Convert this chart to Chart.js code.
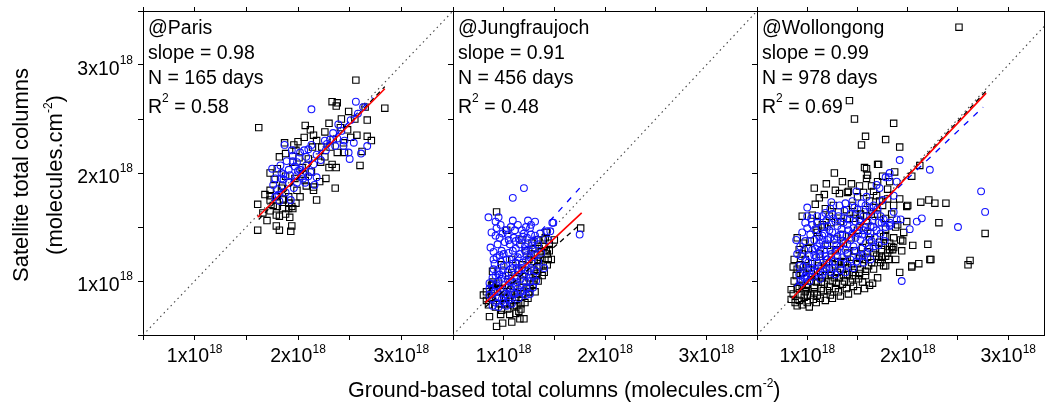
<!DOCTYPE html>
<html>
<head>
<meta charset="utf-8">
<script src="https://cdn.jsdelivr.net/npm/chart.js@4.4.1/dist/chart.umd.min.js"></script>
<style>
html, body { margin: 0; padding: 0; background: #fff; }
body { width: 1050px; height: 405px; position: relative; overflow: hidden;
  font-family: "Liberation Sans", Arial, sans-serif; color: #000; }
.layer { position: absolute; left: 0; top: 0; width: 1050px; height: 405px; pointer-events: none; }
#xtitle { position: absolute; left: 348px; top: 379px; font-size: 21.5px; line-height: 22px; white-space: nowrap; }
#ytitle { position: absolute; left: -112px; top: 141px; width: 300px; height: 68px; font-size: 22px;
  line-height: 34px; text-align: center; white-space: nowrap; transform: rotate(-90deg); }
sup { font-size: 12px; line-height: 0; vertical-align: baseline; position: relative; top: -10px; }
</style>
</head>
<body>
<div class="layer"><canvas id="c1"></canvas></div>
<div class="layer"><canvas id="c2"></canvas></div>
<div class="layer"><canvas id="c3"></canvas></div>
<div id="ytitle">Satellite total columns<br>(molecules.cm<sup>-2</sup>)</div>
<div id="xtitle">Ground-based total columns (molecules.cm<sup>-2</sup>)</div>
<script>
// values in units of 1e18 molecules/cm2, [ground, satellite]
var tickValues = [1, 2, 3];
var tickBase = ["1x10", "2x10", "3x10"];
var tickExp = "18";
var oneToOne = [[0.5, 0.5], [3.5, 3.5]];

var parisSquares = [
  [2.56,2.86],[1.62,2.42],[2.33,2.66],[2.38,2.65],[2.37,2.62],[2.84,2.60],[2.65,2.61],[2.49,2.57],[2.67,2.49],[2.30,2.46],
  [2.07,2.44],[2.12,2.40],[2.06,2.33],[2.15,2.35],[1.96,2.26],[1.87,2.28],[1.88,2.18],[1.82,2.15],[2.18,2.30],[2.23,2.24],
  [2.67,2.34],[2.51,2.33],[2.44,2.28],[2.34,2.31],[2.45,2.19],[2.60,2.07],[2.30,2.05],[2.37,2.05],[2.33,2.08],[2.36,1.86],
  [2.18,1.75],[2.21,1.92],[2.15,1.87],[2.13,2.01],[2.05,1.99],[1.73,2.00],[1.80,2.04],[1.79,1.78],[1.73,1.84],[1.73,1.75],
  [1.86,1.75],[1.99,1.84],[1.91,1.78],[1.94,1.69],[1.91,1.67],[1.95,1.67],[1.61,1.71],[1.73,1.65],[1.79,1.61],[1.70,1.56],
  [1.82,1.60],[1.92,1.59],[1.61,1.47],[1.79,1.51],[1.82,1.47],[1.94,1.51],[1.93,1.46],[1.85,1.88],[2.08,1.88],[2.15,1.84],
  [2.14,2.24],[2.01,2.14],[1.95,2.10],[2.07,1.93],[1.84,1.86],[1.91,1.72],[1.85,1.67],[2.31,2.24],[2.38,2.19],[1.73,1.79],
  [1.86,1.76],[1.66,1.63],[1.76,1.70],[1.88,1.62],[1.98,1.72],[2.02,1.78],[1.98,2.21],[2.04,2.05],[2.10,2.13],[2.22,2.10],
  [2.26,2.38],[2.41,2.42],[2.48,2.40],[2.57,2.35],[2.62,2.20],[2.71,2.30],[2.27,1.95],[2.26,2.15],[1.77,1.94],[1.68,1.80],
  [1.97,1.95],[2.42,2.50],[2.55,2.50],[1.88,1.97],[1.80,1.69],[2.00,2.29]
];
var parisCircles = [
  [2.13,2.59],[2.56,2.66],[2.63,2.61],[2.51,2.49],[2.42,2.39],[2.34,2.37],[2.38,2.32],[2.31,2.31],[2.45,2.30],[1.87,2.26],
  [2.13,2.26],[2.06,2.21],[2.08,2.15],[1.95,2.16],[2.18,2.17],[2.27,2.21],[2.36,2.25],[2.44,2.25],[2.54,2.28],[2.67,2.25],
  [2.61,2.18],[2.49,2.19],[2.50,2.13],[1.75,2.04],[1.83,2.07],[1.89,2.11],[1.99,2.10],[1.97,2.06],[1.91,2.03],[1.92,1.98],
  [2.02,2.03],[1.78,1.95],[1.84,1.95],[1.99,1.98],[2.05,1.95],[2.08,2.07],[2.15,2.08],[2.18,1.96],[1.76,1.89],[1.91,1.91],
  [1.99,1.91],[2.07,1.91],[2.16,1.89],[1.78,1.78],[1.82,1.74],[1.93,1.75],[1.86,1.99],[1.95,2.11],[2.00,2.02],[1.86,1.94],
  [2.12,2.01],[1.80,1.85],[1.88,1.82],[1.96,1.86],[2.03,1.97],[2.10,1.97],[2.22,2.12],[2.28,2.27],[2.39,2.45],[2.58,2.55],
  [2.02,2.19],[1.94,2.21],[1.84,2.00],[2.10,2.22],[1.81,1.80],[2.26,2.30]
];
var parisRed = [[1.61,1.59],[2.84,2.78]];
var parisBlackFit = [[1.62,1.57],[2.84,2.80]];
var parisBlueFit = [[1.75,1.74],[2.72,2.70]];

var jfjSquares = [
  [0.93,0.58],[0.99,0.61],[1.08,0.62],[1.16,0.65],[1.20,0.65],[0.86,0.67],[1.12,0.70],[1.17,0.74],[0.98,0.73],[1.04,0.74],
  [0.86,0.85],[0.80,0.87],[1.44,1.20],[1.43,1.25],[1.42,1.28],[1.39,1.38],[1.34,1.38],[1.42,1.45],[1.76,1.49],[1.03,1.47],
  [0.93,1.64],[0.89,1.09],[0.89,0.99],[1.35,1.14],[1.32,1.05],[1.26,0.93],[1.19,0.88],[1.11,0.82],[1.06,0.79],[1.17,0.79],
  [0.96,0.79],[0.83,0.82],[1.00,0.90],[1.10,0.95],[1.20,1.00],[1.30,1.10],[1.25,1.20],[1.15,1.10],[1.05,1.05],[0.95,0.98],
  [1.35,1.30],[1.28,1.35],[1.22,1.28],[1.12,0.85],[0.90,0.92],[1.02,0.84],[1.25,0.90],[1.30,1.00],[1.38,1.05],[1.36,1.22],
  [1.18,1.38],[1.08,1.20],[0.98,1.15],[0.88,0.96],[1.15,0.72],[1.40,1.32],[1.47,1.20],[1.45,1.35],[0.83,0.90],[0.88,0.88],
  [0.94,0.84],[1.00,0.85],[1.07,0.87],[1.14,0.88],[1.23,0.94],[1.29,0.97],[1.34,1.00],[1.40,1.08],[1.43,1.15],[0.92,0.76],
  [1.01,0.78],[1.10,0.77],[1.21,0.80],[1.24,0.84],[1.31,0.90],[0.85,0.78],[0.97,0.69],[1.06,0.69],[1.13,0.77],[1.18,0.94],
  [1.25,1.03],[1.33,1.07],[1.39,1.15],[1.34,1.19],[1.27,1.25],[1.21,1.10],[1.13,1.02],[1.05,0.96],[0.97,0.93],[0.90,0.97],
  [1.08,1.08],[1.18,1.15],[1.30,1.18],[1.37,1.27],[1.31,1.30],[1.41,1.40],[1.50,1.38],[1.45,1.28]
];
var jfjCircles = [
  [1.20,1.86],[1.09,1.77],[0.85,1.59],[0.95,1.59],[0.92,1.55],[1.09,1.56],[1.24,1.56],[1.31,1.55],[1.49,1.54],[0.93,1.49],
  [1.02,1.47],[1.11,1.47],[1.26,1.49],[1.04,1.43],[1.19,1.41],[1.27,1.43],[1.31,1.42],[1.46,1.46],[0.96,1.40],[0.87,1.31],
  [0.94,1.34],[1.06,1.34],[1.16,1.34],[1.24,1.35],[1.34,1.34],[0.98,1.28],[1.09,1.28],[1.21,1.28],[1.29,1.29],[0.93,1.22],
  [1.03,1.20],[1.14,1.22],[1.26,1.22],[1.34,1.18],[0.91,1.16],[1.00,1.14],[1.09,1.16],[1.19,1.17],[0.94,1.09],[1.04,1.08],
  [1.14,1.09],[1.24,1.09],[1.32,1.09],[0.89,1.03],[0.98,1.02],[1.08,1.00],[1.17,1.02],[1.26,1.00],[1.32,1.00],[0.93,0.96],
  [1.03,0.94],[1.12,0.96],[1.22,0.94],[1.29,0.94],[0.94,0.90],[1.01,0.88],[1.09,0.89],[1.17,0.90],[1.26,0.88],[0.89,0.84],
  [0.98,0.83],[1.06,0.83],[0.89,0.77],[0.95,0.76],[1.03,0.77],[1.75,1.43],[1.44,1.38],[1.48,1.54],[1.43,1.46],[0.90,1.20],
  [1.00,1.25],[1.12,1.30],[1.05,1.38],[1.18,1.47],[0.97,1.52],[1.37,1.26],[1.40,1.12],[1.13,1.12],[0.96,1.06],[1.06,0.99],
  [1.20,1.05],[1.15,0.84],[0.86,0.93],[1.10,1.40],[1.22,1.50],[0.88,1.45],[0.92,1.42],[0.99,1.44],[1.07,1.50],[1.14,1.52],
  [1.20,1.44],[1.23,1.40],[1.15,1.39],[1.01,1.36],[1.12,1.37],[1.21,1.32],[1.28,1.33],[0.90,1.27],[0.96,1.24],[1.05,1.26],
  [1.16,1.25],[1.23,1.24],[1.31,1.25],[0.97,1.18],[1.06,1.20],[1.12,1.17],[1.22,1.19],[1.28,1.16],[0.90,1.11],[0.99,1.10],
  [1.09,1.12],[1.18,1.12],[1.27,1.12],[0.92,1.05],[1.02,1.05],[1.12,1.04],[1.21,1.07],[1.29,1.04],[0.86,0.98],[0.95,1.00],
  [1.04,1.01],[1.13,0.99],[1.22,0.99],[0.91,0.90],[0.99,0.92],[1.07,0.93],[1.14,0.93],[1.20,0.91],[0.86,0.87],[0.94,0.85],
  [1.04,0.86],[1.11,0.88],[1.22,0.87],[1.00,0.80],[1.08,0.79],[0.92,0.80],[1.30,1.37],[1.36,1.44],[1.27,1.52]
];
var jfjRed = [[0.82,0.80],[1.77,1.63]];
var jfjBlackFit = [[0.82,0.76],[1.75,1.52]];
var jfjBlueFit = [[0.85,0.93],[1.75,1.86]];

var wlgSquares = [
  [2.51,3.35],[1.42,2.67],[1.47,2.50],[1.86,2.46],[1.58,2.34],[1.54,2.26],[1.78,2.31],[1.92,2.24],[1.27,2.00],[1.59,2.04],
  [1.70,2.08],[1.87,2.01],[2.12,2.07],[1.17,1.80],[1.08,1.71],[1.32,1.81],[1.40,1.82],[2.13,1.73],[2.21,1.75],[2.38,1.72],
  [2.00,1.70],[2.31,1.54],[2.77,1.44],[1.93,1.38],[2.05,1.33],[1.94,1.28],[2.20,1.34],[1.84,1.32],[1.78,1.14],[2.04,1.14],
  [2.11,1.16],[2.23,1.20],[2.60,1.15],[2.62,1.19],[1.62,0.96],[0.90,0.77],[0.84,0.83],[1.07,1.86],[1.18,1.67],[1.41,1.83],
  [1.57,2.05],[1.71,2.08],[1.59,1.95],[1.64,1.88],[1.69,1.79],[1.56,1.82],[0.94,0.87],[1.03,0.87],[1.10,0.87],[1.20,0.91],
  [1.28,0.93],[1.35,0.97],[1.43,0.99],[1.51,1.02],[1.58,1.05],[1.66,1.11],[1.73,1.17],[1.78,1.23],[1.82,1.29],[1.74,1.29],
  [0.99,0.94],[0.90,0.93],[1.07,0.94],[1.17,0.97],[1.25,1.00],[1.36,1.05],[1.45,1.08],[1.53,1.11],[1.61,1.14],[1.69,1.23],
  [1.76,1.14],[1.81,1.20],[0.87,1.00],[0.95,0.96],[1.04,1.00],[1.18,1.05],[1.30,1.08],[1.41,1.12],[1.50,1.16],[1.10,1.55],
  [1.09,1.47],[0.92,1.29],[0.87,1.20],[0.90,1.11],[1.28,1.29],[1.36,1.35],[1.59,1.60],[1.76,1.41],[1.82,1.35],[1.63,1.44],
  [1.53,1.55],[2.04,1.97],[2.27,1.72],[1.92,1.76],[1.99,1.69],[1.78,1.41],[1.95,1.37],[1.86,1.31],[1.85,1.29],[2.22,1.20],
  [2.04,1.13],[1.74,1.22],[1.78,1.58],[1.90,1.52],[0.86,0.88],[0.92,0.82],[0.97,0.85],[1.00,0.80],[1.06,0.83],[1.13,0.84],
  [1.16,0.91],[1.23,0.87],[1.31,0.90],[1.39,0.93],[1.46,0.95],[0.89,1.05],[0.96,1.08],[1.01,1.12],[1.08,1.04],[1.13,1.09],
  [1.22,1.12],[1.27,1.03],[1.33,1.12],[1.38,1.18],[1.46,1.22],[1.55,1.20],[1.60,1.27],[1.68,1.30],[1.72,1.36],[1.55,1.31],
  [1.47,1.28],[1.40,1.26],[1.31,1.18],[1.24,1.22],[1.16,1.17],[1.05,1.16],[0.98,1.20],[0.93,1.15],[1.01,1.30],[1.12,1.25],
  [1.20,1.33],[1.27,1.39],[1.35,1.43],[1.44,1.40],[1.50,1.47],[1.58,1.50],[1.65,1.56],[1.70,1.62],[1.48,1.62],[1.40,1.58],
  [1.33,1.55],[1.22,1.60],[1.15,1.52],[1.05,1.61],[1.26,1.70],[1.45,1.70],[1.62,1.74],[1.75,1.70],[1.84,1.62],[1.88,1.50],
  [1.96,1.45],[1.99,1.55],[1.70,1.92],[1.80,1.85],[1.52,1.88],[1.35,1.92],[1.19,1.90],[0.98,0.90],[1.14,0.99],[1.22,0.95],
  [1.70,1.03],[1.88,1.20],[1.92,1.08],[1.55,0.99],[0.84,0.92],[0.95,1.25],[1.62,1.38],[1.78,1.48],[0.88,0.80],[0.95,0.78],
  [1.02,0.76],[1.09,0.80],[1.18,0.82],[1.25,0.84],[1.33,0.86],[1.41,0.88],[1.50,0.91],[1.57,0.93],[1.65,0.98],[0.92,0.95],
  [1.00,0.97],[1.09,0.99],[1.15,1.03],[1.23,1.05],[1.32,1.03],[1.40,1.06],[1.48,1.05],[1.58,1.09],[1.64,1.17],[1.71,1.20],
  [1.80,1.26],[0.86,1.13],[0.93,1.07],[1.04,1.07],[1.11,1.14],[1.19,1.17],[1.28,1.15],[1.36,1.17],[1.44,1.16],[1.52,1.21],
  [1.60,1.22],[1.66,1.26],[1.74,1.33],[1.86,1.40],[0.90,1.40],[0.96,1.35],[1.03,1.37],[1.10,1.45],[1.17,1.50],[1.24,1.54],
  [1.31,1.64],[1.39,1.66],[1.46,1.58],[1.53,1.62],[1.58,1.66],[1.66,1.68],[1.72,1.74],[1.80,1.76],[1.86,1.70],[1.66,1.83],
  [1.50,1.78],[1.44,1.90],[1.28,1.84],[1.12,1.77],[1.60,1.98],[1.75,1.97],[1.82,1.92],[0.95,1.60],[1.00,0.87],[1.07,0.90],
  [1.14,0.93],[1.29,0.98],[1.37,1.00],[1.45,1.02],[1.52,1.07]
];
var wlgCircles = [
  [1.92,2.12],[2.22,2.03],[2.73,1.83],[2.77,1.64],[2.50,1.50],[1.94,1.00],[2.02,1.48],[2.14,1.58],[2.09,1.55],[1.00,1.68],
  [1.00,1.49],[0.89,1.38],[1.24,1.73],[1.23,1.67],[1.69,1.89],[1.72,1.86],[1.78,1.96],[1.81,1.96],[1.82,1.51],[1.89,1.57],
  [1.32,1.70],[1.38,1.72],[1.45,1.74],[1.49,1.83],[1.59,1.78],[1.82,2.00],[1.26,1.58],[1.17,1.44],[1.12,1.41],[1.07,1.38],
  [1.05,1.29],[0.97,1.29],[0.94,1.23],[0.99,1.19],[0.92,1.14],[0.92,1.06],[0.97,1.03],[1.04,1.12],[1.10,1.17],[1.20,1.20],
  [1.30,1.23],[1.38,1.29],[1.46,1.32],[1.53,1.38],[1.61,1.41],[1.69,1.47],[1.76,1.57],[1.82,1.54],[1.73,1.60],[1.63,1.64],
  [1.56,1.60],[1.48,1.55],[1.41,1.47],[1.33,1.43],[1.27,1.38],[1.18,1.34],[1.13,1.28],[1.23,1.29],[1.33,1.32],[1.43,1.38],
  [1.51,1.44],[1.63,1.51],[1.71,1.54],[1.09,1.08],[1.17,1.09],[1.25,1.12],[1.33,1.16],[1.43,1.20],[1.51,1.23],[1.59,1.26],
  [1.66,1.32],[1.20,1.51],[1.30,1.51],[1.40,1.52],[1.50,1.66],[1.58,1.70],[1.66,1.70],[1.46,1.49],[1.56,1.47],[1.13,1.02],
  [1.02,1.00],[0.95,0.99],[1.10,1.32],[1.15,1.38],[1.23,1.40],[1.02,1.23],[1.13,1.23],[1.22,1.16],[1.28,1.06],[1.38,1.08],
  [1.46,1.12],[1.56,1.17],[1.63,1.20],[1.64,1.37],[1.36,1.58],[1.28,1.55],[1.10,1.54],[1.86,1.64],[1.89,1.92],[1.86,1.79],
  [1.93,1.57],[1.83,1.52],[1.74,1.54],[1.00,1.60],[0.95,1.45],[1.05,1.52],[1.15,1.60],[0.90,1.25],[0.93,1.32],[0.98,1.37],
  [1.03,1.43],[1.08,1.48],[1.14,1.50],[1.19,1.56],[1.25,1.62],[1.31,1.60],[1.37,1.65],[1.43,1.62],[1.52,1.57],[1.60,1.55],
  [1.67,1.60],[1.70,1.67],[1.75,1.75],[1.62,1.68],[1.54,1.72],[1.47,1.68],[1.39,1.42],[1.45,1.44],[1.35,1.37],[1.29,1.33],
  [1.24,1.25],[1.18,1.23],[1.07,1.24],[1.01,1.17],[0.96,1.13],[1.06,1.09],[1.14,1.14],[1.19,1.12],[1.27,1.18],[1.35,1.22],
  [1.40,1.25],[1.48,1.28],[1.54,1.30],[1.58,1.35],[1.67,1.40],[1.73,1.44],[1.78,1.50],[1.55,1.43],[1.48,1.40],[1.40,1.34],
  [1.30,1.28],[1.17,1.29],[1.09,1.22],[1.00,1.10],[0.93,1.00],[0.99,1.05],[1.05,1.04],[1.15,1.06],[1.24,1.08],[1.33,1.10],
  [1.40,1.15],[1.49,1.18],[1.55,1.24],[1.62,1.30],[1.71,1.33],[1.77,1.37],[1.12,1.35],[1.20,1.38],[1.25,1.45],[1.34,1.48],
  [1.30,1.41],[1.22,1.47],[1.15,1.42],[1.08,1.30],[1.52,1.51],[1.60,1.46],[1.66,1.50],[1.36,1.54],[1.42,1.57],[1.18,1.63],
  [1.10,1.60],[1.04,1.58],[0.98,1.54]
];
var wlgRed = [[0.85,0.84],[2.78,2.74]];
var wlgBlackFit = [[0.85,0.83],[2.78,2.76]];
var wlgBlueFit = [[0.87,0.95],[2.75,2.61]];

var BIG = '19.5px "Liberation Sans", Arial, sans-serif';
var SMALL = '12px "Liberation Sans", Arial, sans-serif';

function pts(arr) {
  return arr.map(function(p) { return { x: p[0], y: p[1] }; });
}

function drawPow(ctx, base, exp, x, baseY, supDy, align) {
  ctx.font = BIG;
  var wb = ctx.measureText(base).width;
  ctx.font = SMALL;
  var we = ctx.measureText(exp).width;
  var x0 = align === "center" ? x - (wb + we) / 2 : x - wb - we;
  ctx.font = BIG;
  ctx.fillText(base, x0, baseY);
  ctx.font = SMALL;
  ctx.fillText(exp, x0 + wb, baseY - supDy);
}

var panelText = {
  id: "panelText",
  afterDraw: function(chart, args, opts) {
    var ctx = chart.ctx, a = chart.chartArea;
    ctx.save();
    ctx.fillStyle = "#000";
    ctx.textAlign = "left";
    ctx.textBaseline = "alphabetic";

    // station text block
    var lx = a.left + 5;
    ctx.font = BIG;
    ctx.fillText(opts.site, lx, a.top + 23);
    ctx.fillText("slope = " + opts.slope, lx, a.top + 48);
    ctx.fillText("N = " + opts.days + " days", lx, a.top + 73);
    ctx.fillText("R", lx, a.top + 102);
    var wr = ctx.measureText("R").width;
    ctx.font = SMALL;
    ctx.fillText("2", lx + wr, a.top + 91);
    var w2 = ctx.measureText("2").width;
    ctx.font = BIG;
    ctx.fillText(" = " + opts.r2, lx + wr + w2, a.top + 102);

    // tick labels with exponent
    var xs = chart.scales.x, ys = chart.scales.y;
    tickValues.forEach(function(v, i) {
      if (v >= xs.min && v <= xs.max) {
        drawPow(ctx, tickBase[i], tickExp, xs.getPixelForValue(v), a.bottom + 27, 9, "center");
      }
      if (opts.yLabels) {
        var py = ys.getPixelForValue(v);
        drawPow(ctx, tickBase[i], tickExp, a.left - 10, py + 10, 11, "right");
      }
    });
    ctx.restore();
  }
};

function axis(pos, tickLen, max) {
  return {
    type: "linear", position: pos, min: 0.5, max: max,
    ticks: { display: false, stepSize: 0.5, includeBounds: false },
    grid: { drawOnChartArea: false, drawTicks: tickLen > 0, tickLength: tickLen, color: "#000" },
    border: { display: true, color: "#000", width: 1 }
  };
}

var panels = [
  { canvas: "c1", site: "@Paris", slope: "0.98", days: "165", r2: "0.58",
    squares: parisSquares, circles: parisCircles, red: parisRed, black: parisBlackFit, blue: parisBlueFit,
    left: 143, right: 453, xMax: 3.5, yLabels: true },
  { canvas: "c2", site: "@Jungfraujoch", slope: "0.91", days: "456", r2: "0.48",
    squares: jfjSquares, circles: jfjCircles, red: jfjRed, black: jfjBlackFit, blue: jfjBlueFit,
    left: 453, right: 757, xMax: 3.5, yLabels: false },
  { canvas: "c3", site: "@Wollongong", slope: "0.99", days: "978", r2: "0.69",
    squares: wlgSquares, circles: wlgCircles, red: wlgRed, black: wlgBlackFit, blue: wlgBlueFit,
    left: 757, right: 1047, xMax: 3.36, yLabels: false }
];

panels.forEach(function(p) {
  new Chart(document.getElementById(p.canvas), {
    type: "scatter",
    data: {
      datasets: [
        { data: pts(p.red), showLine: true, pointRadius: 0, borderColor: "#ff0000", borderWidth: 1.6 },
        { data: pts(p.black), showLine: true, pointRadius: 0, borderColor: "#000", borderWidth: 1.3, borderDash: [5, 4] },
        { data: pts(p.blue), showLine: true, pointRadius: 0, borderColor: "#0000ff", borderWidth: 1.3, borderDash: [6, 7] },
        { data: pts(p.circles), pointStyle: "circle", pointRadius: 3.4, borderWidth: 1.1,
          borderColor: "#1414ff", backgroundColor: "rgba(0,0,0,0)" },
        { data: pts(p.squares), pointStyle: "rect", pointRadius: 4.5, borderWidth: 1.1,
          borderColor: "#000", backgroundColor: "rgba(0,0,0,0)" },
        { data: pts(oneToOne), showLine: true, pointRadius: 0, borderColor: "#444", borderWidth: 1.1,
          borderDash: [1.5, 3.5], clip: 0 }
      ]
    },
    options: {
      responsive: true,
      maintainAspectRatio: false,
      animation: false,
      events: [],
      layout: { padding: { left: p.left - 5, right: 1050 - p.right, top: 7, bottom: 65 } },
      plugins: {
        legend: { display: false },
        tooltip: { enabled: false },
        panelText: { site: p.site, slope: p.slope, days: p.days, r2: p.r2, yLabels: p.yLabels }
      },
      scales: {
        x: axis("bottom", 5, p.xMax),
        xTop: axis("top", 4, p.xMax),
        y: axis("left", 5, 3.5),
        yRight: axis("right", 0, 3.5)
      }
    },
    plugins: [panelText]
  });
});
</script>
</body>
</html>
